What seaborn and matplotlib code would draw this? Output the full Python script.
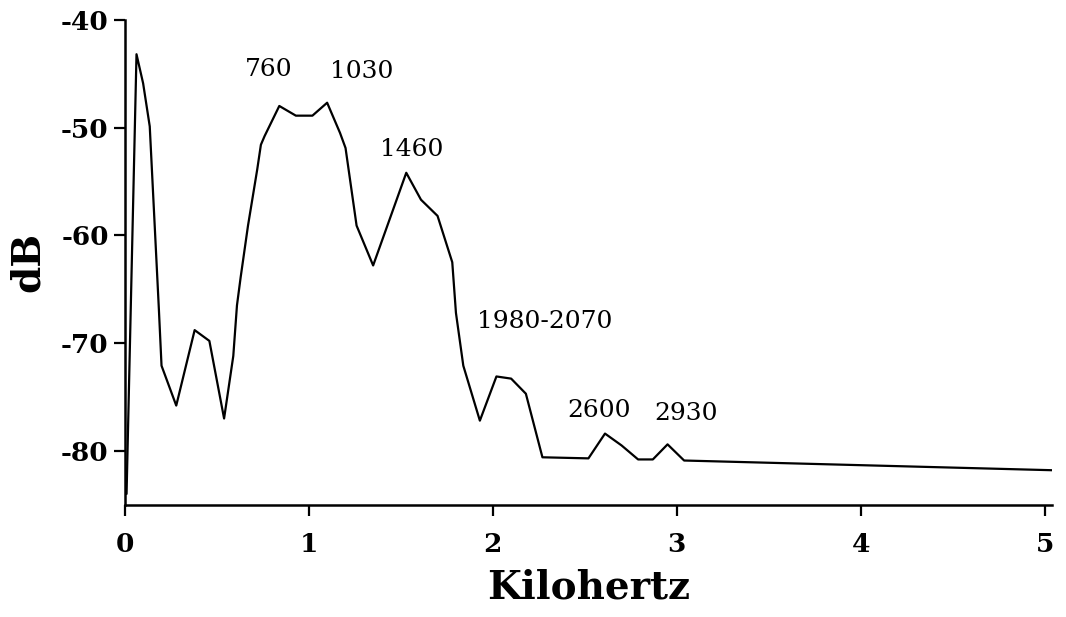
import matplotlib
matplotlib.use('Agg')
import matplotlib.pyplot as plt
import seaborn as sns
import pandas as pd

# spectrum (kHz, dB)
freq_khz = [0.01, 0.064, 0.10, 0.136, 0.186, 0.20, 0.28, 0.38, 0.46, 0.54,
            0.59, 0.61, 0.63, 0.67, 0.72, 0.74, 0.76, 0.84, 0.90, 0.93,
            1.02, 1.10, 1.17, 1.20, 1.26, 1.35, 1.53, 1.61, 1.70, 1.78,
            1.80, 1.84, 1.93, 2.02, 2.10, 2.18, 2.27, 2.52, 2.61, 2.70,
            2.79, 2.87, 2.95, 3.04, 5.04]
level_db = [-84.0, -43.2, -45.9, -49.9, -67.0, -72.1, -75.8, -68.8, -69.8, -77.0,
            -71.2, -66.5, -63.9, -59.1, -53.9, -51.6, -50.8, -48.0, -48.6, -48.9,
            -48.9, -47.7, -50.5, -51.9, -59.1, -62.8, -54.2, -56.7, -58.2, -62.5,
            -67.2, -72.1, -77.2, -73.1, -73.3, -74.7, -80.6, -80.7, -78.4, -79.5,
            -80.8, -80.8, -79.4, -80.9, -81.8]

peak_labels = ['760', '1030', '1460', '1980-2070', '2600', '2930']
label_x = [0.78, 1.29, 1.56, 2.28, 2.58, 3.05]
label_y = [-44.6, -44.8, -52.0, -68.0, -76.3, -76.5]

x_ticks = [0, 1, 2, 3, 4, 5]
y_ticks = [-40, -50, -60, -70, -80]

df = pd.DataFrame({'kHz': freq_khz, 'dB': level_db})

sns.set_style('ticks')
plt.rcParams['font.family'] = ['DejaVu Serif']
plt.rcParams['axes.unicode_minus'] = False
plt.rcParams['text.color'] = 'black'
plt.rcParams['axes.labelcolor'] = 'black'
plt.rcParams['xtick.color'] = 'black'
plt.rcParams['ytick.color'] = 'black'

fig = plt.figure(figsize=(10.66, 6.17), dpi=100)
ax = fig.add_axes([0.117, 0.182, 0.870, 0.786])

sns.lineplot(data=df, x='kHz', y='dB', color='black', linewidth=1.6, ax=ax)

for txt, tx, ty in zip(peak_labels, label_x, label_y):
    ax.text(tx, ty, txt, ha='center', va='center', fontsize=18, color='black')

ax.set_xlim(0, 5.04)
ax.set_ylim(-85, -40)
ax.set_xticks(x_ticks)
ax.set_yticks(y_ticks)
ax.tick_params(axis='both', direction='out', length=8, width=1.6,
               labelsize=19, color='black', labelcolor='black')
for lab in ax.get_xticklabels() + ax.get_yticklabels():
    lab.set_fontweight('bold')
ax.tick_params(axis='x', pad=12)

sns.despine(ax=ax)
for side in ['left', 'bottom']:
    ax.spines[side].set_linewidth(1.8)
    ax.spines[side].set_color('black')

ax.set_xlabel('Kilohertz', fontsize=28, fontweight='bold', labelpad=8, color='black')
ax.set_ylabel('dB', fontsize=28, fontweight='bold', labelpad=10, color='black')

fig.savefig('out.png', dpi=100, facecolor='white')
